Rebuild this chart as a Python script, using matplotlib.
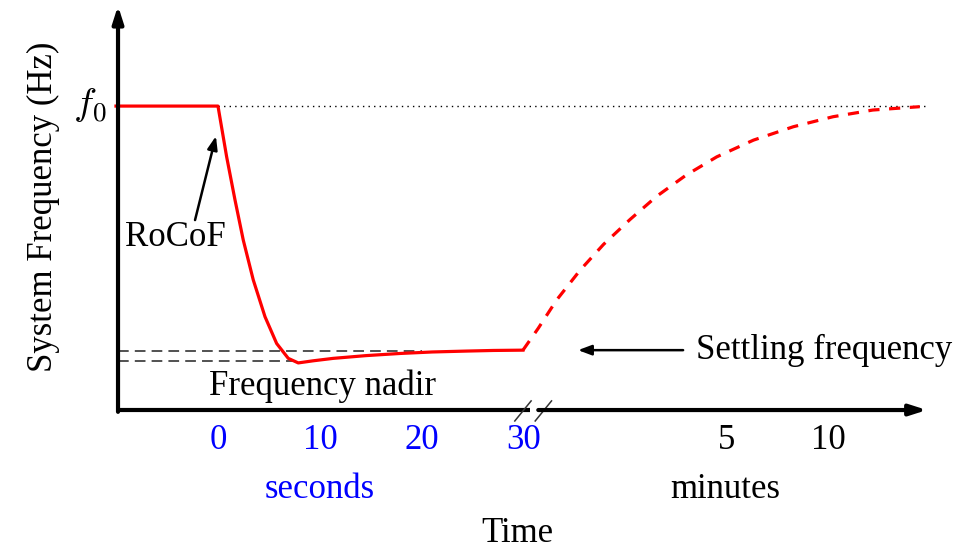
import matplotlib.pyplot as plt

plt.rcParams['font.family'] = ['Liberation Serif', 'DejaVu Serif']
plt.rcParams['mathtext.fontset'] = 'cm'

# time axis: seconds part (x in seconds), minutes part is placed after the axis break
t_sec = [-10, 0, 0.85, 1.67, 2.48, 3.46, 4.61, 5.75, 6.89, 7.87, 9.34, 11.3, 14.5, 17.8, 21.0, 24.4, 27.0, 29.9]
f_sec = [1.0, 1.0, 0.833, 0.691, 0.559, 0.428, 0.307, 0.219, 0.170, 0.155, 0.162, 0.170, 0.179, 0.186, 0.191, 0.194, 0.196, 0.197]

# recovery after the break (axis units, same scale as seconds)
t_rec = [29.9, 31.4, 33.2, 35.5, 37.8, 40.4, 43.0, 45.9, 48.9, 52.5, 56.4, 60.3, 64.2, 68.8]
f_rec = [0.197, 0.269, 0.362, 0.46, 0.545, 0.627, 0.703, 0.773, 0.833, 0.888, 0.932, 0.965, 0.987, 0.998]

sec_ticks = [0, 10, 20, 30]
sec_labels = ['0', '10', '20', '30']
min_ticks = [49.9, 59.8]
min_labels = ['5', '10']

f_nadir = 0.161
f_settle = 0.193
x_end = 69.5
y_top = 1.33
x_left = -9.8

fig = plt.figure(figsize=(9.73, 5.5), dpi=100)
ax = fig.add_axes([0, 0, 1, 1])
ax.set_xlim(-21.37, 74.02)
ax.set_ylim(-0.4605, 1.349)
ax.axis('off')

blue = '#0000ff'
red = '#ff0000'
fs = 25

# axes with arrows
head = '-|>,head_length=1.0,head_width=0.32'
ax.annotate('', xy=(x_left, y_top), xytext=(x_left, -0.006),
            arrowprops=dict(arrowstyle=head, lw=3, color='black', shrinkA=0, shrinkB=0))
ax.plot([x_left - 0.15, 30.6], [0, 0], color='black', lw=3, solid_capstyle='butt')
ax.annotate('', xy=(x_end, 0), xytext=(31.4, 0),
            arrowprops=dict(arrowstyle=head, lw=3, color='black', shrinkA=0, shrinkB=0))
# break marks
for xb in [29.9, 31.9]:
    ax.plot([xb - 0.8, xb + 0.8], [-0.036, 0.03], color='#333333', lw=1.1)

# reference lines
ax.plot([0, x_end], [1.0, 1.0], color='black', lw=1.0, linestyle=(0, (1, 3)))
ax.plot([x_left, 20], [f_settle, f_settle], color='#222222', lw=1.1, linestyle=(0, (7, 4)))
ax.plot([x_left, 7.5], [f_nadir, f_nadir], color='#222222', lw=1.1, linestyle=(0, (7, 4)))

# frequency curve
ax.plot(t_sec, f_sec, color=red, lw=2.3, solid_joinstyle='round')
ax.plot(t_rec, f_rec, color=red, lw=2.3, linestyle=(0, (3.5, 3)))

# tick labels
for xt, lab in zip(sec_ticks, sec_labels):
    ax.text(xt, -0.099, lab, color=blue, fontsize=fs, ha='center', va='center')
for xt, lab in zip(min_ticks, min_labels):
    ax.text(xt, -0.099, lab, color='black', fontsize=fs, ha='center', va='center')
ax.text(10.0, -0.263, 'seconds', color=blue, fontsize=fs, ha='center', va='center')
ax.text(49.7, -0.263, 'minutes', color='black', fontsize=fs, ha='center', va='center')
ax.text(29.4, -0.405, 'Time', color='black', fontsize=fs, ha='center', va='center')

ax.text(-17.1, 0.67, 'System Frequency (Hz)', rotation=90, fontsize=fs, ha='center', va='center')
ax.text(-12.6, 1.0, '$f_0$', fontsize=28, ha='center', va='center')

# annotations
ax.text(-4.2, 0.566, 'RoCoF', fontsize=fs, ha='center', va='center')
ax.annotate('', xy=(-0.2, 0.901), xytext=(-2.25, 0.625),
            arrowprops=dict(arrowstyle='-|>,head_length=0.8,head_width=0.3', lw=1.8, color='black',
                            shrinkA=0, shrinkB=0))
ax.text(10.2, 0.079, 'Frequency nadir', fontsize=fs, ha='center', va='center')
ax.annotate('', xy=(35.3, 0.197), xytext=(45.6, 0.197),
            arrowprops=dict(arrowstyle='-|>,head_length=0.8,head_width=0.3', lw=1.8, color='black',
                            shrinkA=0, shrinkB=0))
ax.text(46.9, 0.197, 'Settling frequency', fontsize=fs, ha='left', va='center')

fig.savefig('out.png', dpi=100)
